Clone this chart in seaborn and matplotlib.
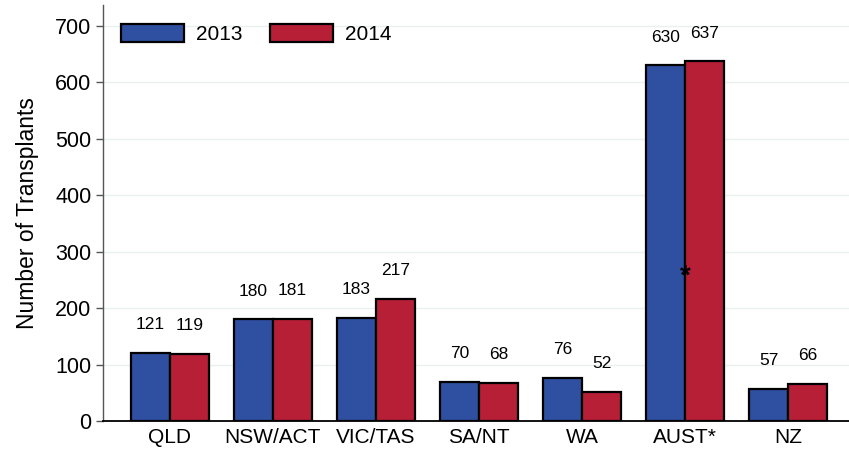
import pandas as pd
import matplotlib.pyplot as plt
import seaborn as sns

# data
regions = ["QLD", "NSW/ACT", "VIC/TAS", "SA/NT", "WA", "AUST*", "NZ"]
vals_2013 = [121, 180, 183, 70, 76, 630, 57]
vals_2014 = [119, 181, 217, 68, 52, 637, 66]
years = ["2013", "2014"]

df = pd.DataFrame({
    "region": regions * 2,
    "count": vals_2013 + vals_2014,
    "year": [years[0]] * len(regions) + [years[1]] * len(regions),
})

sns.set_style("white")
plt.rcParams["font.family"] = ["Liberation Sans", "DejaVu Sans"]
plt.rcParams["text.color"] = "black"
plt.rcParams["axes.labelcolor"] = "black"

fig = plt.figure(figsize=(8.49, 4.5), dpi=100)
ax = fig.add_axes([0.121, 0.0644, 0.879, 0.9246])

sns.barplot(data=df, x="region", y="count", hue="year",
            palette=["#2f4fa1", "#b71f37"], edgecolor="black", linewidth=1.6,
            width=0.76, gap=0, saturation=1, ax=ax, zorder=3)

for cont in ax.containers:
    ax.bar_label(cont, padding=15, fontsize=12.5, color="black")

# significance marker on AUST
ax.text(5, 255, "*", ha="center", va="center", fontsize=20, fontweight="bold",
        color="black", zorder=10)

ax.set_xlim(-0.65, 6.59)
ax.set_ylim(0, 737)
ax.set_yticks(range(0, 701, 100))
ax.yaxis.grid(True, color="#e8f0f0", linewidth=1, zorder=0)
ax.set_axisbelow(True)

ax.set_xlabel("")
ax.set_ylabel("Number of Transplants", fontsize=16.5, labelpad=12)
ax.tick_params(axis="y", labelsize=15.5, length=5, width=1, color="#555555",
               labelcolor="black", direction="out", left=True, pad=3)
ax.tick_params(axis="x", labelsize=15, length=0, pad=5, labelcolor="black")

for s in ["top", "right"]:
    ax.spines[s].set_visible(False)
ax.spines["left"].set_color("#555555")
ax.spines["left"].set_linewidth(1)
ax.spines["bottom"].set_color("black")
ax.spines["bottom"].set_linewidth(1.3)

leg = ax.legend(loc="upper left", ncol=2, frameon=False, fontsize=15,
                handlelength=3.0, handleheight=1.0, columnspacing=1.3,
                handletextpad=0.6, bbox_to_anchor=(0.0, 1.0))

fig.savefig("out.png", dpi=100)
